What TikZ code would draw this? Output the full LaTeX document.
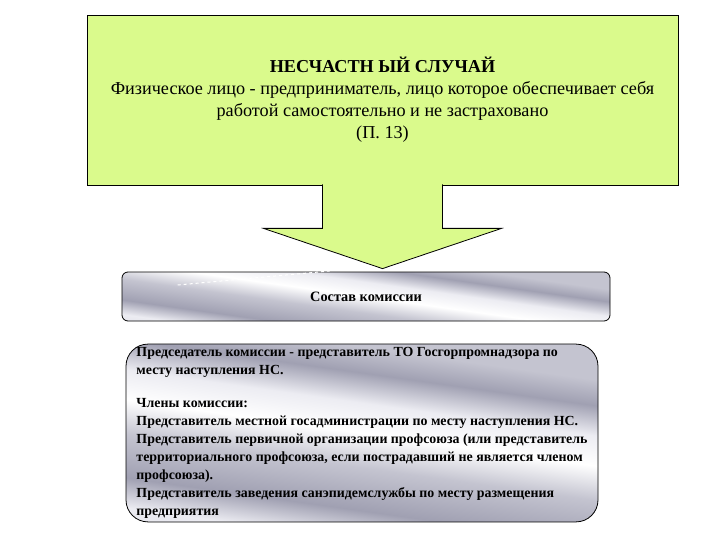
\documentclass[tikz,border=0pt]{standalone}
\usepackage{fontspec}
\setmainfont{Liberation Serif}
\usepackage{tikz}
\usetikzlibrary{calc}
\definecolor{casegreen}{RGB}{218,250,140}
\definecolor{steeldark}{RGB}{160,160,178}
\definecolor{steelmid}{RGB}{196,196,208}
\definecolor{steellight}{RGB}{236,236,242}
\pgfdeclareverticalshading{metal}{100bp}{color(0bp)=(steelmid); color(25bp)=(steellight); color(32bp)=(steeldark); color(42bp)=(steelmid); color(50bp)=(white); color(57bp)=(steellight); color(64bp)=(steeldark); color(70bp)=(steelmid); color(75bp)=(steelmid); color(100bp)=(steelmid)}

\begin{document}
\begin{tikzpicture}[x=1pt, y=-1pt, line width=0.8pt]
    \tikzstyle{casebox} = [rectangle, draw=black, fill=casegreen, minimum width=591pt, minimum height=170pt, align=center, inner sep=0pt, font=\fontsize{18.2}{22}\selectfont]
    \tikzstyle{metalbox} = [rectangle, draw=black, shading=metal, shading angle=-8, font=\bfseries\fontsize{13.9}{18}\selectfont]
    \tikzstyle{bigarrow} = [draw=black, fill=casegreen, line join=miter]

    \useasboundingbox (0,0) rectangle (720,540);

    % Case description
    \node [casebox] (case) at (382.5,100) {\textbf{НЕСЧАСТН ЫЙ СЛУЧАЙ}\\Физическое лицо - предприниматель, лицо которое обеспечивает себя\\работой самостоятельно и не застраховано\\(П. 13)};

    % Commission
    \node [metalbox, rounded corners=6pt, minimum width=488pt, minimum height=49pt, font=\bfseries\fontsize{14.3}{17.6}\selectfont] (comm) at (366,296.5) {Состав комиссии};
    \draw [white, dashed, line width=1pt] ($(comm.west)+(56,-11.5)$) -- ($(comm.west)+(208,-25.5)$);
    \node [metalbox, rounded corners=22pt, minimum width=472pt, minimum height=176pt, align=left] (members) at (362,433) {Председатель комиссии - представитель ТО Госгорпромнадзора по\\
        месту наступления НС.\\[15pt]
        Члены комиссии:\\
        Представитель местной госадминистрации по месту наступления НС.\\
        Представитель первичной организации профсоюза (или представитель\\
        территориального профсоюза, если пострадавший не является членом\\
        профсоюза).\\
        Представитель заведения санэпидемслужбы по месту размещения\\
        предприятия};

    % Arrow
    \coordinate (tip) at ($(case.south |- comm.north)+(0,-3)$);
    \draw [bigarrow] ($(case.south)+(-60,-1)$) -- ++(0,44) -- ++(-59,0) -- (tip) -- ($(case.south)+(119,43)$) -- ++(-59,0) -- ++(0,-44);
\end{tikzpicture}
\end{document}
